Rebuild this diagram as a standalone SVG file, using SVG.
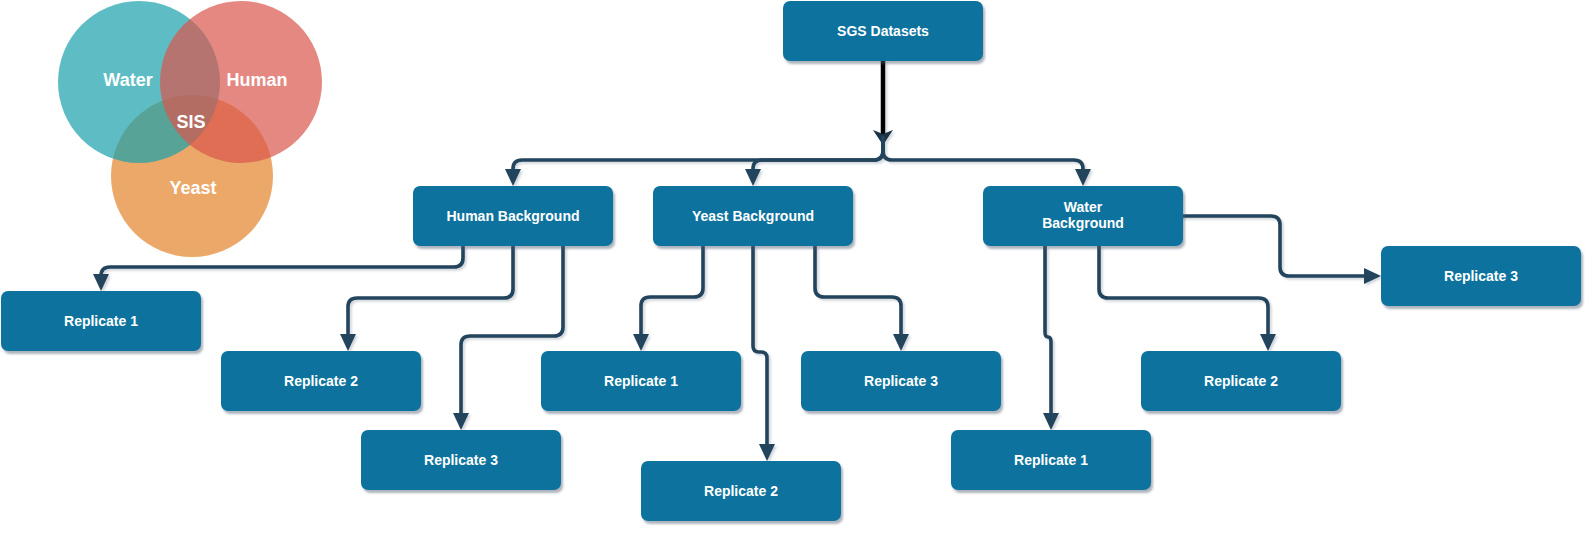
<svg xmlns="http://www.w3.org/2000/svg" width="1594" height="536" viewBox="0 0 1594 536">
<defs>
<style>
.node rect{fill:#10739E;filter:url(#sh)}
.node text{fill:#FFFFFF;font-family:"Liberation Sans",Arial,sans-serif;font-weight:bold;font-size:14px;text-anchor:middle}
.venn text{fill:#FFFFFF;font-family:"Liberation Sans",Arial,sans-serif;font-weight:bold;font-size:18px;text-anchor:middle}
.edge{fill:none;stroke:#23445D;stroke-width:3.6;marker-end:url(#blk)}
#connectors{filter:url(#esh)}
</style>
<filter id="sh" x="-10%" y="-10%" width="130%" height="140%">
<feDropShadow dx="2" dy="3" stdDeviation="1" flood-color="#4a5a70" flood-opacity="0.45"/>
</filter>
<filter id="esh" x="-5%" y="-5%" width="110%" height="110%">
<feDropShadow dx="2" dy="2" stdDeviation="1" flood-color="#6a7a90" flood-opacity="0.3"/>
</filter>
<marker id="blk" markerUnits="userSpaceOnUse" markerWidth="17" markerHeight="16" refX="13" refY="8" orient="auto">
<path d="M0,0 L17,8 L0,16 Z" fill="#23445D"/>
</marker>
<marker id="cls" markerUnits="userSpaceOnUse" markerWidth="15" markerHeight="20" refX="11" refY="10" orient="auto">
<path d="M0,0 L15,10 L0,20 L4,10 Z" fill="#1A3346"/>
</marker>
</defs>

<g id="venn" class="venn">
<circle cx="192" cy="176" r="81" fill="#E2832A" fill-opacity="0.7"/>
<circle cx="139" cy="82" r="81" fill="#1AA1AB" fill-opacity="0.7"/>
<circle cx="241" cy="82" r="81" fill="#DA554C" fill-opacity="0.7"/>
<text x="128" y="86">Water</text>
<text x="257" y="86">Human</text>
<text x="191" y="128">SIS</text>
<text x="193" y="194">Yeast</text>
</g>

<g id="connectors">
<path d="M883,61 L883,141" fill="none" stroke="#000000" stroke-width="4.5" marker-end="url(#cls)"/>
<path class="edge" d="M883,136 L883,151 Q883,160 874,160 L522,160 Q513,160 513,169 L513,182"/>
<path class="edge" d="M883,136 L883,151 Q883,160 874,160 L762,160 Q753,160 753,169 L753,182"/>
<path class="edge" d="M883,136 L883,151 Q883,160 892,160 L1074,160 Q1083,160 1083,169 L1083,182"/>
<path class="edge" d="M463,246 L463,258 Q463,267 454,267 L110,267 Q101,267 101,276 L101,287"/>
<path class="edge" d="M513,246 L513,289 Q513,298 504,298 L357,298 Q348,298 348,307 L348,347"/>
<path class="edge" d="M563,246 L563,327 Q563,336 554,336 L470,336 Q461,336 461,345 L461,426"/>
<path class="edge" d="M703,246 L703,288 Q703,297 694,297 L650,297 Q641,297 641,306 L641,347"/>
<path class="edge" d="M753,246 L753,346 Q753,352 759,352 L761,352 Q767,352 767,358 L767,457"/>
<path class="edge" d="M815,246 L815,288 Q815,297 824,297 L892,297 Q901,297 901,306 L901,347"/>
<path class="edge" d="M1045,246 L1045,332 Q1045,337 1048,337 Q1051,337 1051,342 L1051,426"/>
<path class="edge" d="M1099,246 L1099,289 Q1099,298 1108,298 L1259,298 Q1268,298 1268,307 L1268,347"/>
<path class="edge" d="M1164,216 L1271,216 Q1280,216 1280,225 L1280,267 Q1280,276 1289,276 L1377,276"/>
</g>

<g id="sgs" class="node"><rect x="783" y="1" width="200" height="60" rx="7"/><text x="883" y="36">SGS Datasets</text></g>
<g id="human-bg" class="node"><rect x="413" y="186" width="200" height="60" rx="7"/><text x="513" y="221">Human Background</text></g>
<g id="yeast-bg" class="node"><rect x="653" y="186" width="200" height="60" rx="7"/><text x="753" y="221">Yeast Background</text></g>
<g id="water-bg" class="node"><rect x="983" y="186" width="200" height="60" rx="7"/><text x="1083" y="212">Water</text><text x="1083" y="228">Background</text></g>
<g id="human-r1" class="node"><rect x="1" y="291" width="200" height="60" rx="7"/><text x="101" y="326">Replicate 1</text></g>
<g id="human-r2" class="node"><rect x="221" y="351" width="200" height="60" rx="7"/><text x="321" y="386">Replicate 2</text></g>
<g id="human-r3" class="node"><rect x="361" y="430" width="200" height="60" rx="7"/><text x="461" y="465">Replicate 3</text></g>
<g id="yeast-r1" class="node"><rect x="541" y="351" width="200" height="60" rx="7"/><text x="641" y="386">Replicate 1</text></g>
<g id="yeast-r2" class="node"><rect x="641" y="461" width="200" height="60" rx="7"/><text x="741" y="496">Replicate 2</text></g>
<g id="yeast-r3" class="node"><rect x="801" y="351" width="200" height="60" rx="7"/><text x="901" y="386">Replicate 3</text></g>
<g id="water-r1" class="node"><rect x="951" y="430" width="200" height="60" rx="7"/><text x="1051" y="465">Replicate 1</text></g>
<g id="water-r2" class="node"><rect x="1141" y="351" width="200" height="60" rx="7"/><text x="1241" y="386">Replicate 2</text></g>
<g id="water-r3" class="node"><rect x="1381" y="246" width="200" height="60" rx="7"/><text x="1481" y="281">Replicate 3</text></g>
</svg>
